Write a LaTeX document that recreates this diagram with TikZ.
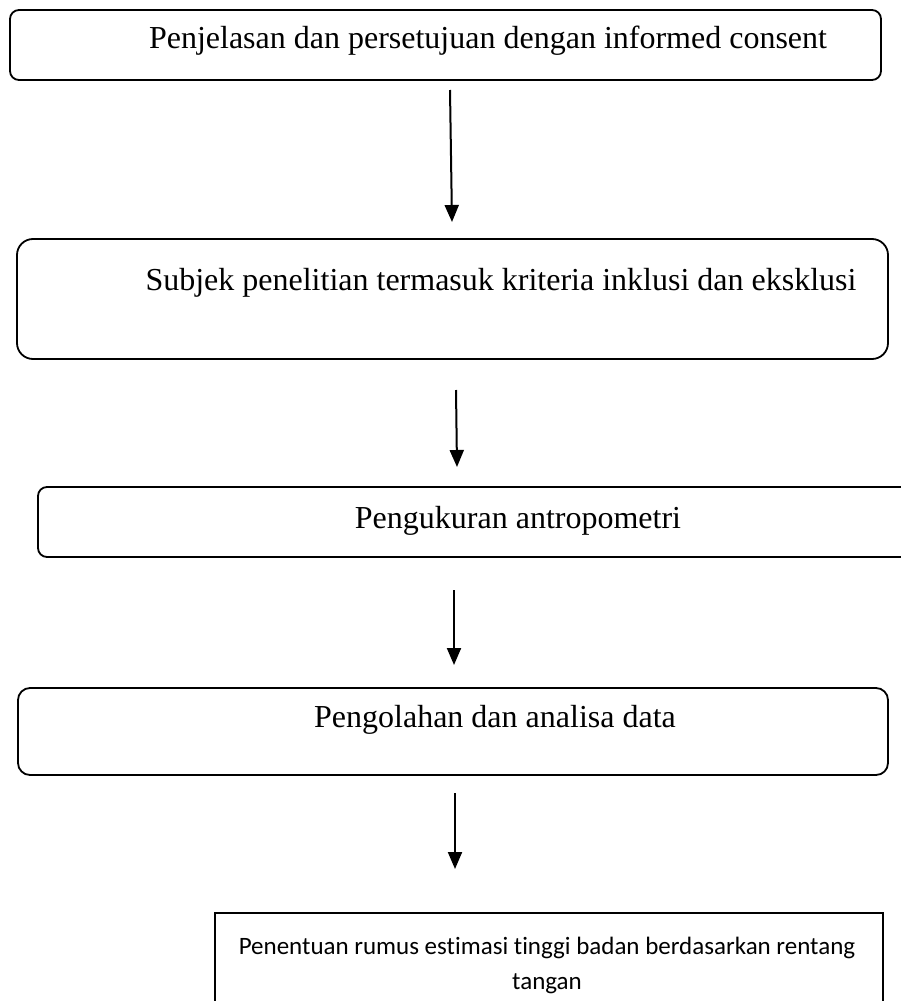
\documentclass[tikz,border=0pt]{standalone}
\usepackage{fontspec}
\setmainfont{Liberation Serif}
\newfontfamily\calfont[Ligatures=NoCommon]{Carlito}
\usetikzlibrary{arrows.meta}
\begin{document}
\begin{tikzpicture}[x=1pt,y=-1pt,
  box/.style={draw=black,line width=1.8pt,inner sep=0pt,fill=none},
  lbl/.style={inner sep=0pt,anchor=center,font=\fontsize{32}{38}\selectfont},
  lbl5/.style={inner sep=0pt,anchor=center,font=\calfont\fontsize{25}{36}\selectfont},
  arr/.style={line width=2pt,-{Triangle[width=14pt,length=17pt]}}]
\useasboundingbox (0,0) rectangle (900,1001);
\node[box,rounded corners=9pt,minimum width=871pt,minimum height=70pt] (b1) at (445.5,45) {};
\node[lbl] (t1) at (488,41) {Penjelasan dan persetujuan dengan informed consent};
\node[box,rounded corners=16pt,minimum width=871pt,minimum height=120pt] (b2) at (452.5,299) {};
\node[lbl] (t2) at (501,283) {Subjek penelitian termasuk kriteria inklusi dan eksklusi};
\node[box,rounded corners=9pt,minimum width=872pt,minimum height=70pt] (b3) at (474,522) {};
\node[lbl] (t3) at (518,521) {Pengukuran antropometri};
\node[box,rounded corners=12pt,minimum width=870pt,minimum height=87pt] (b4) at (453,731.5) {};
\node[lbl] (t4) at (495,720) {Pengolahan dan analisa data};
\node[box,minimum width=668pt,minimum height=107pt] (b5) at (549,966.5) {};
\node[lbl5] (t5a) at (547,948) {Penentuan rumus estimasi tinggi badan berdasarkan rentang};
\node[lbl5] (t5b) at (547,984) {tangan};
\coordinate (a1s) at (450,90);
\coordinate (a1e) at (452,222);
\coordinate (a2s) at (456,390);
\coordinate (a2e) at (457,467);
\coordinate (a3s) at (454,590);
\coordinate (a3e) at (454,665);
\coordinate (a4s) at (455,793);
\coordinate (a4e) at (455,869);
\draw[arr] (a1s) -- (a1e);
\draw[arr] (a2s) -- (a2e);
\draw[arr] (a3s) -- (a3e);
\draw[arr] (a4s) -- (a4e);
\end{tikzpicture}
\end{document}
